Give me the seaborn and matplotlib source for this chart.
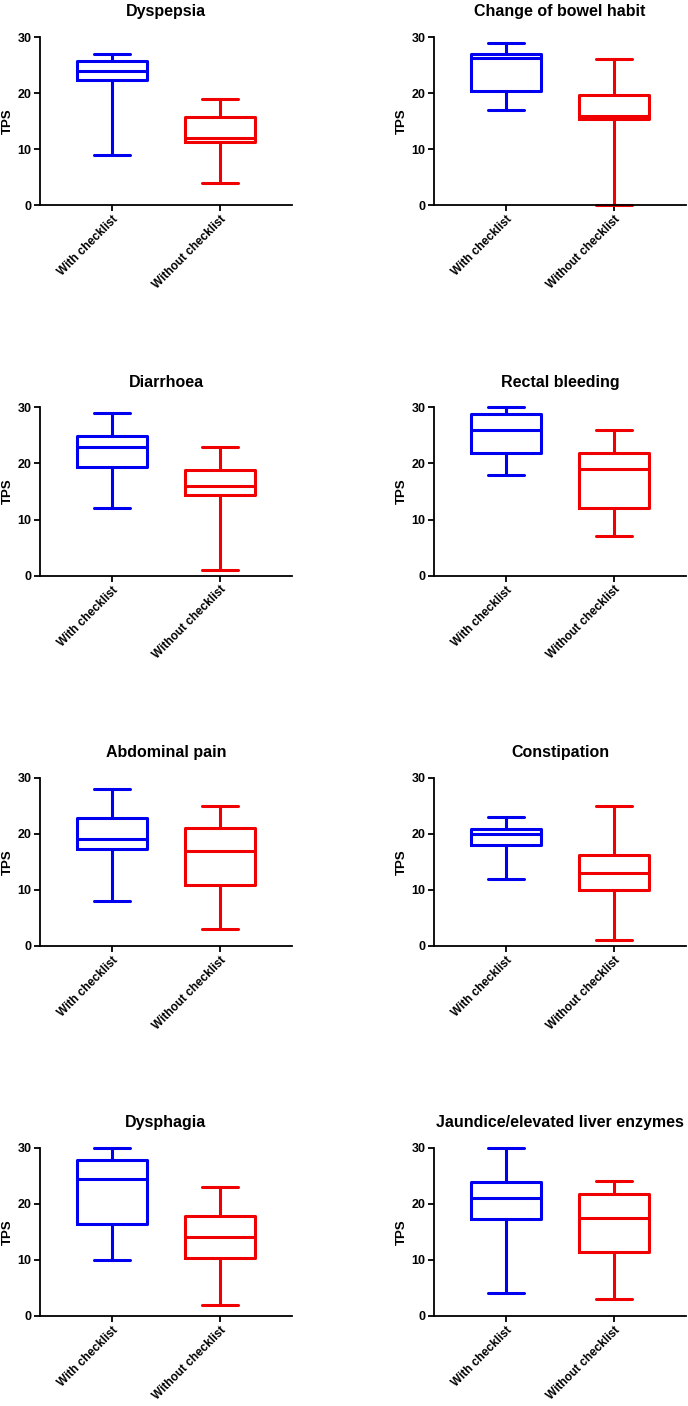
import numpy as np
import pandas as pd
import seaborn as sns
import matplotlib
matplotlib.use("Agg")
import matplotlib.pyplot as plt

# sintomas (titulos de los paneles)
symptoms = ["Dyspepsia", "Change of bowel habit", "Diarrhoea", "Rectal bleeding",
            "Abdominal pain", "Constipation", "Dysphagia",
            "Jaundice/elevated liver enzymes"]
groups = ["With checklist", "Without checklist"]

# resumen de cinco numeros: min, Q1, mediana, Q3, max
with_checklist = [
    [9, 22.3, 24, 25.7, 27],
    [17, 20.3, 26.2, 26.9, 29],
    [12, 19.3, 23, 24.9, 29],
    [18, 21.8, 26, 28.9, 30],
    [8, 17.2, 19, 22.8, 28],
    [12, 18, 20, 20.8, 23],
    [10, 16.3, 24.5, 27.8, 30],
    [4, 17.3, 21, 23.8, 30],
]
without_checklist = [
    [4, 11.25, 12, 15.8, 19],
    [0, 15.3, 15.9, 19.7, 26],
    [1, 14.3, 16, 18.8, 23],
    [7, 12, 19, 21.8, 26],
    [3, 10.8, 17, 21, 25],
    [1, 10, 13, 16.2, 25],
    [2, 10.3, 14, 17.8, 23],
    [3, 11.3, 17.5, 21.8, 24],
]
y_ticks = [0, 10, 20, 30]

sns.set_style("ticks")
plt.rcParams["font.family"] = ["Liberation Sans", "DejaVu Sans"]
plt.rcParams["font.weight"] = "bold"
for k in ["text.color", "axes.labelcolor", "xtick.color", "ytick.color"]:
    plt.rcParams[k] = "black"

W, H = 688, 1406
fig = plt.figure(figsize=(W / 100, H / 100), dpi=100)

lefts = [40, 434]
tops = [37, 407.5, 777.7, 1147.7]
aw, ah = 252, 168
colores = {"With checklist": "#0000F0", "Without checklist": "#F00000"}

for i, nombre in enumerate(symptoms):
    fila, col = divmod(i, 2)
    ax = fig.add_axes([lefts[col] / W, 1 - (tops[fila] + ah) / H, aw / W, ah / H])
    df = pd.DataFrame({
        "grupo": [groups[0]] * 5 + [groups[1]] * 5,
        "TPS": with_checklist[i] + without_checklist[i],
    })
    sns.boxplot(data=df, x="grupo", y="TPS", hue="grupo", order=groups,
                hue_order=groups, palette=colores, fill=False, whis=(0, 100),
                width=0.65, linewidth=2.2, legend=False, ax=ax)
    for art in ax.lines + ax.patches:
        art.set_clip_on(False)
    ax.set_ylim(0, 30)
    ax.set_xlim(-0.667, 1.667)
    ax.set_yticks(y_ticks)
    sns.despine(ax=ax)
    for s in ["left", "bottom"]:
        ax.spines[s].set_linewidth(1.3)
        ax.spines[s].set_color("black")
    ax.tick_params(axis="both", length=4, width=1.3, color="black",
                   labelsize=9, pad=2)
    ax.set_xticks([0, 1])
    ax.set_xticklabels(groups, rotation=45, ha="right", rotation_mode="anchor",
                       fontweight="bold", fontsize=8.5)
    for t in ax.get_yticklabels():
        t.set_fontweight("bold")
    ax.set_xlabel("")
    ax.set_ylabel("TPS", fontsize=9.5, fontweight="bold", labelpad=2.5)
    ax.set_title(nombre, fontsize=11.5, fontweight="bold", pad=15)

fig.savefig("out.png", dpi=100)
